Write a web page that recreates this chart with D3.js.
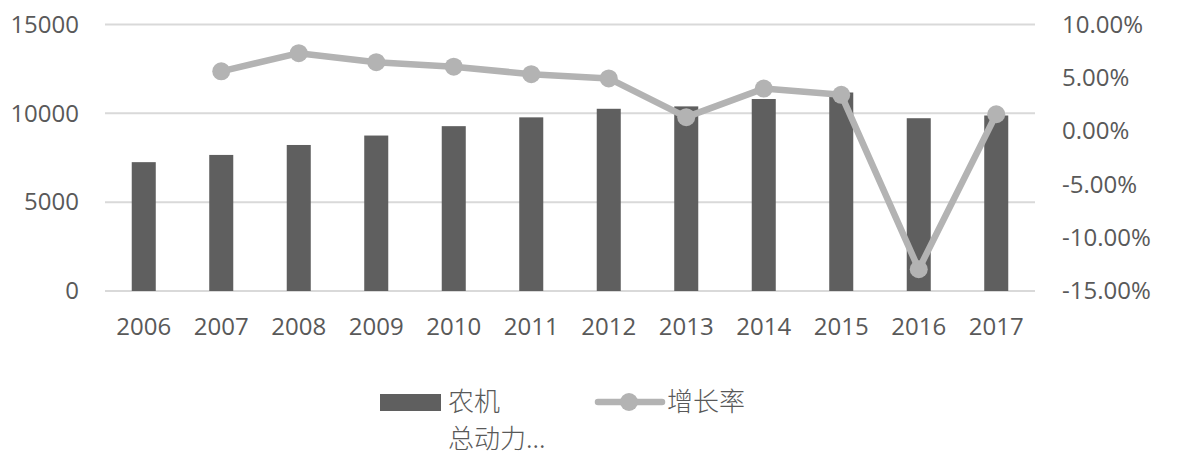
<!DOCTYPE html>
<html>
<head>
<meta charset="utf-8">
<script src="https://cdn.jsdelivr.net/npm/d3@7"></script>
<style>
  html, body { margin: 0; padding: 0; background: #fff; }
  svg { display: block; }
</style>
</head>
<body>
<svg id="chart" width="1196" height="475"></svg>
<script>
const years = ["2006","2007","2008","2009","2010","2011","2012","2013","2014","2015","2016","2017"];
const power = [7252, 7659, 8219, 8750, 9278, 9774, 10256, 10391, 10806, 11173, 9725, 9878];
const growth = [null, 0.0561, 0.0731, 0.0646, 0.0604, 0.0534, 0.0494, 0.0131, 0.0399, 0.0340, -0.1296, 0.0158];
const leftTicks = [0, 5000, 10000, 15000];
const rightTicks = [-0.15, -0.10, -0.05, 0, 0.05, 0.10];
const legendBar = ["农机", "总动力..."];
const legendLine = "增长率";

const svg = d3.select("#chart");
const m = { left: 105, right: 1035, top: 24.5, bottom: 291 };
const textColor = "#595959";
const barColor = "#5f5f5f";
const lineColor = "#b3b3b3";
const gridColor = "#d9d9d9";
const font = "'Open Sans', 'Noto Sans', sans-serif";
const cjk = "'Noto Sans CJK SC', sans-serif";

const x = d3.scaleBand().domain(years).range([m.left, m.right]).paddingInner(0.69).paddingOuter(0.345);
const yL = d3.scaleLinear().domain([0, 15000]).range([m.bottom, m.top]);
const yR = d3.scaleLinear().domain([-0.15, 0.10]).range([m.bottom, m.top]);

// grid
svg.append("g").selectAll("line").data(leftTicks).join("line")
  .attr("x1", m.left).attr("x2", m.right)
  .attr("y1", d => yL(d)).attr("y2", d => yL(d))
  .attr("stroke", gridColor).attr("stroke-width", 2);

// left axis
const axL = svg.append("g").attr("transform", `translate(${m.left},0)`)
  .call(d3.axisLeft(yL).tickValues(leftTicks).tickSize(0).tickPadding(26).tickFormat(d3.format("d")));
axL.select(".domain").remove();
axL.selectAll("text").attr("font-family", font).attr("font-size", 24).attr("fill", textColor);

// right axis
const pct = d => d3.format(".2%")(d).replace("\u2212", "-");
const axR = svg.append("g").attr("transform", `translate(${m.right},0)`)
  .call(d3.axisRight(yR).tickValues(rightTicks).tickSize(0).tickPadding(27).tickFormat(pct));
axR.select(".domain").remove();
axR.selectAll("text").attr("font-family", font).attr("font-size", 24).attr("fill", textColor);

// x axis
const axX = svg.append("g").attr("transform", `translate(0,${m.bottom})`)
  .call(d3.axisBottom(x).tickSize(0).tickPadding(27));
axX.select(".domain").remove();
axX.selectAll("text").attr("font-family", font).attr("font-size", 24).attr("fill", textColor);

// bars
svg.append("g").selectAll("rect").data(years).join("rect")
  .attr("x", d => x(d)).attr("width", x.bandwidth())
  .attr("y", (d, i) => yL(power[i])).attr("height", (d, i) => yL(0) - yL(power[i]))
  .attr("fill", barColor);

// line
const pts = years.map((d, i) => ({ y: d, v: growth[i] })).filter(p => p.v !== null);
const cx = d => x(d) + x.bandwidth() / 2;
svg.append("path").datum(pts)
  .attr("d", d3.line().x(p => cx(p.y)).y(p => yR(p.v)))
  .attr("fill", "none").attr("stroke", lineColor).attr("stroke-width", 6.5).attr("stroke-linejoin", "round");
svg.append("g").selectAll("circle").data(pts).join("circle")
  .attr("cx", p => cx(p.y)).attr("cy", p => yR(p.v)).attr("r", 9)
  .attr("fill", lineColor);

// legend
const lg = svg.append("g");
lg.append("rect").attr("x", 380).attr("y", 394).attr("width", 61).attr("height", 17).attr("fill", barColor);
lg.selectAll("text.lb").data(legendBar).join("text").attr("class", "lb")
  .attr("x", 448).attr("y", (d, i) => 411 + i * 37)
  .attr("font-family", cjk).attr("font-size", 26).attr("font-weight", 300).attr("fill", textColor)
  .text(d => d);
lg.append("line").attr("x1", 598).attr("x2", 662).attr("y1", 402).attr("y2", 402)
  .attr("stroke", lineColor).attr("stroke-width", 6.5).attr("stroke-linecap", "round");
lg.append("circle").attr("cx", 629).attr("cy", 402).attr("r", 9).attr("fill", lineColor);
lg.append("text").attr("x", 667).attr("y", 411)
  .attr("font-family", cjk).attr("font-size", 26).attr("font-weight", 300).attr("fill", textColor)
  .text(legendLine);
</script>
</body>
</html>
